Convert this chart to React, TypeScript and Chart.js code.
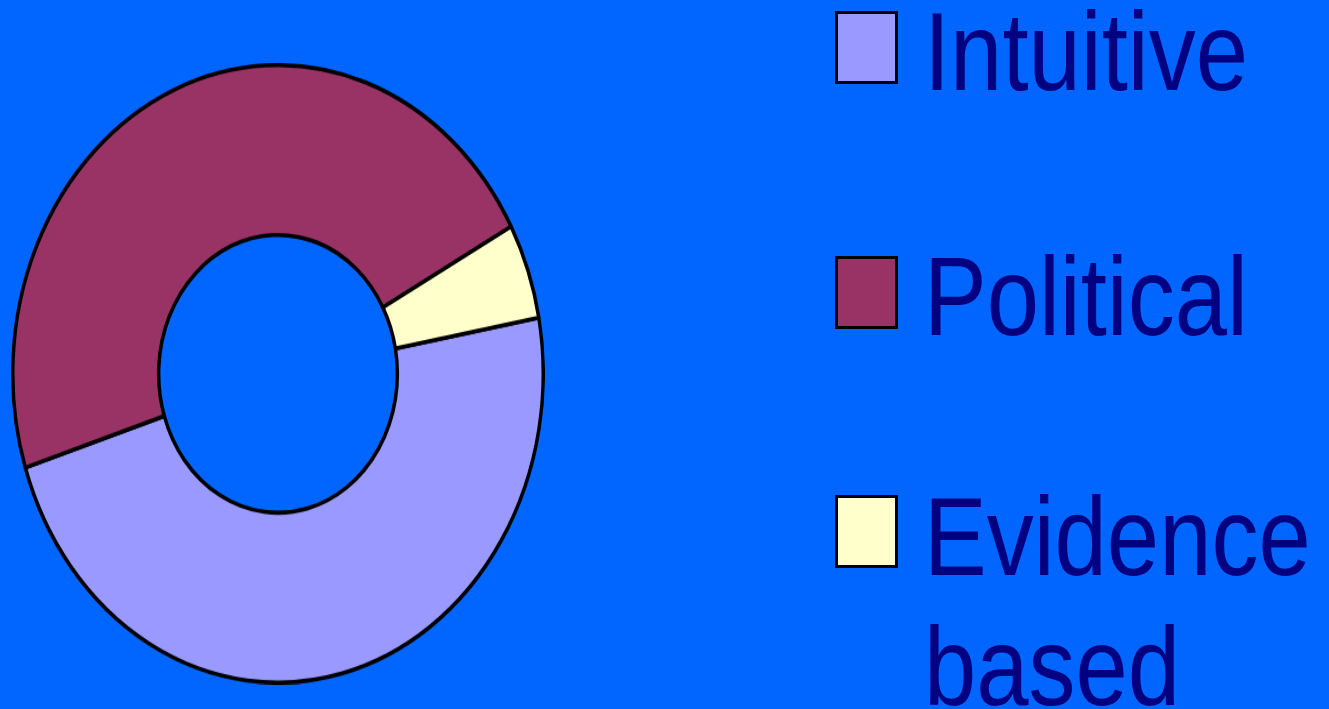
import React, { useEffect, useRef } from "react";
import { Chart, registerables } from "chart.js";

Chart.register(...registerables);

const categories = ["Intuitive", "Political", "Evidence based"];
const values = [48, 47, 5];
const sliceColors = ["#9999FF", "#993366", "#FFFFCC"];
const legendLines = [["Intuitive"], ["Political"], ["Evidence", "based"]];

const BG = "#0066FF";
const TEXT = "#000080";
const FONT = '"Liberation Sans", Arial, sans-serif';

const CANVAS = 534;
const STRETCH = 1.164;
const TEXT_STRETCH = 1.175;
const FONT_SIZE = 94;

export default function App() {
  const ref = useRef<HTMLCanvasElement | null>(null);

  useEffect(() => {
    if (!ref.current) return;
    const chart = new Chart(ref.current, {
      type: "doughnut",
      data: {
        labels: categories,
        datasets: [
          {
            data: values,
            backgroundColor: sliceColors,
            borderColor: "#000000",
            borderWidth: 3.5,
          },
        ],
      },
      options: {
        animation: false,
        responsive: false,
        maintainAspectRatio: false,
        rotation: 79.5,
        cutout: "45%",
        layout: { padding: 0 },
        plugins: {
          legend: { display: false },
          tooltip: { enabled: false },
          title: { display: false },
        },
      },
    });
    return () => chart.destroy();
  }, []);

  const boxTops = [11, 256, 495];
  const baselines = [[90], [335], [575, 705]];
  const baseOff = (FONT_SIZE * (1 - 1.117) / 2 + 0.905 * FONT_SIZE) * TEXT_STRETCH;

  return (
    <div
      style={{
        position: "fixed",
        left: 0,
        top: 0,
        width: 1329,
        height: 709,
        background: BG,
        overflow: "hidden",
        fontFamily: FONT,
      }}
    >
      <div
        style={{
          position: "absolute",
          left: 11,
          top: 373.5 - (CANVAS / 2) * STRETCH,
          width: CANVAS,
          height: CANVAS,
          transform: `scaleY(${STRETCH})`,
          transformOrigin: "top left",
        }}
      >
        <canvas
          ref={ref}
          width={CANVAS}
          height={CANVAS}
          style={{ width: CANVAS, height: CANVAS, display: "block" }}
        />
      </div>
      {categories.map((c, i) => (
        <React.Fragment key={c}>
          <div
            style={{
              position: "absolute",
              left: 835,
              top: boxTops[i],
              width: 63,
              height: 73,
              boxSizing: "border-box",
              border: "3px solid #000000",
              background: sliceColors[i],
            }}
          />
          {legendLines[i].map((line, j) => (
            <div
              key={line}
              style={{
                position: "absolute",
                left: 924,
                top: baselines[i][j] - baseOff,
                fontSize: FONT_SIZE,
                lineHeight: 1,
                color: TEXT,
                whiteSpace: "nowrap",
                transform: `scaleY(${TEXT_STRETCH})`,
                transformOrigin: "top left",
              }}
            >
              {line}
            </div>
          ))}
        </React.Fragment>
      ))}
    </div>
  );
}
